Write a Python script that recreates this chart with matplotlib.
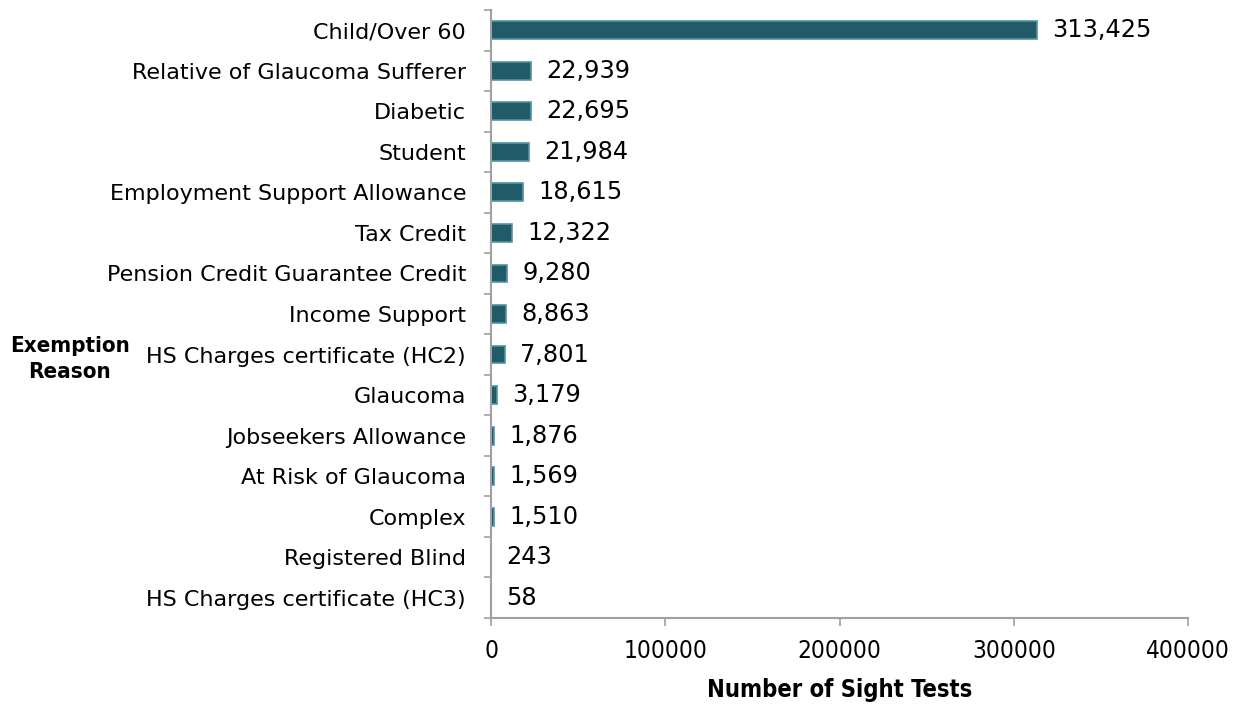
import matplotlib
matplotlib.use("Agg")
import matplotlib.pyplot as plt
from matplotlib.ticker import FixedLocator

categories = ["Child/Over 60", "Relative of Glaucoma Sufferer", "Diabetic", "Student",
              "Employment Support Allowance", "Tax Credit", "Pension Credit Guarantee Credit",
              "Income Support", "HS Charges certificate (HC2)", "Glaucoma",
              "Jobseekers Allowance", "At Risk of Glaucoma", "Complex", "Registered Blind",
              "HS Charges certificate (HC3)"]
values = [313425, 22939, 22695, 21984, 18615, 12322, 9280, 8863, 7801, 3179,
          1876, 1569, 1510, 243, 58]
xticks = [0, 100000, 200000, 300000, 400000]

W, H = 1247, 704
fig = plt.figure(figsize=(W/100, H/100), dpi=100)
ax = fig.add_axes([491/W, 1-618/H, (1188-491)/W, (618-10)/H])

n = len(categories)
ypos = list(range(n))
ax.barh(ypos, values, height=0.44, color="#225b68", edgecolor="#4f95a6", linewidth=1.2)
ax.set_ylim(n-0.5, -0.5)
ax.set_xlim(0, 400000)

ax.set_yticks(ypos)
ax.set_yticklabels(categories, fontsize=16, family="DejaVu Sans")
ax.yaxis.set_minor_locator(FixedLocator([i-0.5 for i in range(n+1)]))
ax.tick_params(axis="y", which="major", length=0, pad=18)
ax.tick_params(axis="y", which="minor", length=5, color="#a0a0a0", width=1.2)
ax.set_xticks(xticks)
ax.set_xticklabels([str(t) for t in xticks], fontsize=17.5, family="DejaVu Sans",
                   fontstretch="condensed")
ax.tick_params(axis="x", length=6, color="#a0a0a0", width=1.2, pad=9)

for s in ["top", "right"]:
    ax.spines[s].set_visible(False)
for s in ["left", "bottom"]:
    ax.spines[s].set_color("#a0a0a0")
    ax.spines[s].set_linewidth(1.5)

for y, v in zip(ypos, values):
    ax.annotate(f"{v:,}", xy=(v, y), xytext=(11, 0), textcoords="offset points",
                va="center", ha="left", fontsize=17.3, family="DejaVu Sans")

fig.text(840/W, 1-690/H, "Number of Sight Tests", ha="center", va="center",
         fontsize=17, fontweight="bold", family="DejaVu Sans", fontstretch="condensed")
fig.text(70/W, 1-359/H, "Exemption\nReason", ha="center", va="center",
         fontsize=16, fontweight="bold", family="DejaVu Sans", fontstretch="condensed",
         linespacing=1.4)

fig.savefig("out.png", dpi=100)
